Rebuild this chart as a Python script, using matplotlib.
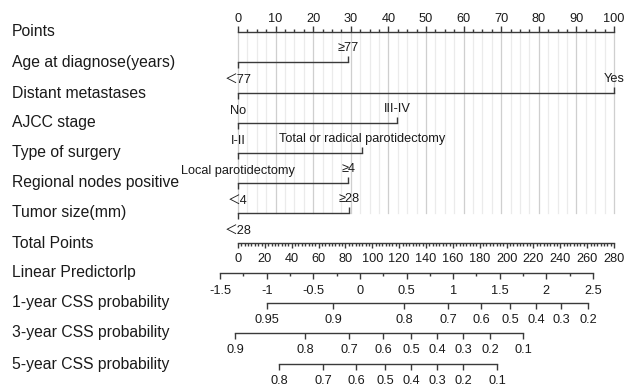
import matplotlib.pyplot as plt
import numpy as np

# Categorical predictors: category labels and their points (0-100 scale)
age_labels = ['＜77', '≥77']
age_points = [0, 29.3]
dm_labels = ['No', 'Yes']
dm_points = [0, 100]
ajcc_labels = ['I-II', 'III-IV']
ajcc_points = [0, 42.3]
surg_labels = ['Local parotidectomy', 'Total or radical parotidectomy']
surg_points = [0, 33.0]
nodes_labels = ['＜4', '≥4']
nodes_points = [0, 29.3]
tumor_labels = ['＜28', '≥28']
tumor_points = [0, 29.5]

# Total points axis and linear predictor
total_ticks = np.arange(0, 281, 20)
lp_ticks = [-1.5, -1, -0.5, 0, 0.5, 1, 1.5, 2, 2.5]
lp_at_tp0 = -1.307      # linear predictor at 0 total points
lp_per_tp = 0.0144      # change in linear predictor per total point

# Survival probability ticks and their total-point positions
css1_labels = ['0.95', '0.9', '0.8', '0.7', '0.6', '0.5', '0.4', '0.3', '0.2']
css1_tp = [21.6, 70.7, 123.6, 156.4, 181.0, 202.5, 221.9, 240.5, 260.6]
css3_labels = ['0.9', '0.8', '0.7', '0.6', '0.5', '0.4', '0.3', '0.2', '0.1']
css3_tp = [-2.2, 49.9, 82.7, 108.0, 128.8, 148.2, 167.5, 187.6, 212.2]
css5_labels = ['0.8', '0.7', '0.6', '0.5', '0.4', '0.3', '0.2', '0.1']
css5_tp = [30.5, 63.3, 87.9, 109.5, 128.8, 148.2, 167.5, 192.8]

row_names = ['Points', 'Age at diagnose(years)', 'Distant metastases', 'AJCC stage',
             'Type of surgery', 'Regional nodes positive', 'Tumor size(mm)',
             'Total Points', 'Linear Predictorlp', '1-year CSS probability',
             '3-year CSS probability', '5-year CSS probability']
row_y = [32, 62, 93, 123, 153, 183, 213, 243, 273, 303, 333, 364]

plt.rcParams['font.family'] = ['Liberation Sans', 'Noto Sans CJK SC', 'DejaVu Sans']
LINE = '#3a3a3a'
TXT = '#1a1a1a'
FS_NAME = 11.3
FS_TICK = 9.2

fig = plt.figure(figsize=(6.25, 3.87), dpi=100)
ax = fig.add_axes([0, 0, 1, 1])
ax.set_xlim(-238 / 3.76, (625 - 238) / 3.76)
ax.set_ylim(387, 0)
ax.axis('off')


def tp2x(tp):
    return np.asarray(tp, dtype=float) * 100 / 280


def lp2x(lp):
    return tp2x((np.asarray(lp, dtype=float) - lp_at_tp0) / lp_per_tp)


def tick(x, y, length):
    ax.plot([x, x], [y, y + length], color=LINE, lw=1.0, solid_capstyle='butt')


# row names
for name, y in zip(row_names, row_y):
    ax.text(-60.2, y, name, ha='left', va='center', fontsize=FS_NAME, color=TXT)

# grid lines
y_top, y_bot = row_y[0], row_y[6]
for p in np.arange(0, 100.1, 2.5):
    col = '#cfcfcf' if p % 10 == 0 else '#ebebeb'
    ax.plot([p, p], [y_top, y_bot], color=col, lw=0.9, zorder=0)

# Points axis
y = row_y[0]
ax.plot([0, 100], [y, y], color=LINE, lw=1.0)
for p in np.arange(0, 100.1, 2.5):
    tick(p, y, -6 if p % 10 == 0 else -3)
for p in range(0, 101, 10):
    ax.text(p, y - 13, str(p), ha='center', va='center', fontsize=FS_TICK, color=TXT)

# categorical rows
cats = [(age_labels, age_points), (dm_labels, dm_points), (ajcc_labels, ajcc_points),
        (surg_labels, surg_points), (nodes_labels, nodes_points),
        (tumor_labels, tumor_points)]
for (labs, pts), y in zip(cats, row_y[1:7]):
    ax.plot([min(pts), max(pts)], [y, y], color=LINE, lw=1.0)
    for i, (lab, p) in enumerate(zip(labs, pts)):
        if i % 2 == 0:
            tick(p, y, 6)
            ax.text(p, y + 18, lab, ha='center', va='center', fontsize=FS_TICK, color=TXT)
        else:
            tick(p, y, -6)
            ax.text(p, y - 14, lab, ha='center', va='center', fontsize=FS_TICK, color=TXT)

# Total Points axis
y = row_y[7]
ax.plot(tp2x([0, 280]), [y, y], color=LINE, lw=1.0)
for t in np.arange(0, 280.1, 2.5):
    tick(tp2x(t), y, 5 if t % 20 == 0 else 3)
for t in total_ticks:
    ax.text(tp2x(t), y + 16, str(t), ha='center', va='center', fontsize=FS_TICK, color=TXT)

# Linear predictor axis
y = row_y[8]
ax.plot(lp2x([lp_ticks[0], lp_ticks[-1]]), [y, y], color=LINE, lw=1.0)
for v in np.arange(lp_ticks[0], lp_ticks[-1] + 0.01, 0.25):
    tick(lp2x(v), y, 6 if v % 0.5 == 0 else 3)
for v in lp_ticks:
    ax.text(lp2x(v), y + 18, f'{v:g}', ha='center', va='center', fontsize=FS_TICK, color=TXT)

# CSS probability axes
for (labs, tps), y in zip([(css1_labels, css1_tp), (css3_labels, css3_tp),
                           (css5_labels, css5_tp)], row_y[9:]):
    xs = tp2x(tps)
    ax.plot([xs.min(), xs.max()], [y, y], color=LINE, lw=1.0)
    for lab, x in zip(labs, xs):
        tick(x, y, 6)
        ax.text(x, y + 17, lab, ha='center', va='center', fontsize=FS_TICK, color=TXT)

fig.savefig('out.png', dpi=100)
